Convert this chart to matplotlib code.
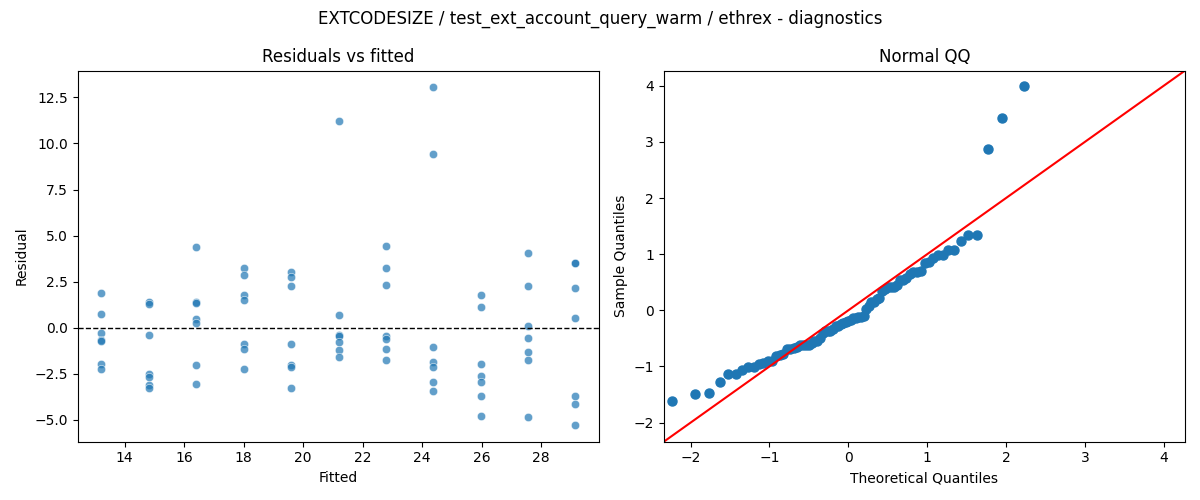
import numpy as np
import matplotlib
matplotlib.use("Agg")
import matplotlib.pyplot as plt
import seaborn as sns
from statistics import NormalDist

# Fitted values (one per group) and residuals
fitted_levels = [13.22, 14.81, 16.41, 18.00, 19.59, 21.19, 22.78, 24.37, 25.97, 27.56, 29.15]
residuals_by_group = [
    [1.90, 0.74, -0.29, -0.68, -0.72, -1.99, -2.22],
    [1.39, 1.28, -0.40, -2.53, -2.65, -3.09, -3.27],
    [4.39, 1.39, 1.36, 0.50, 0.25, -2.02, -3.05],
    [3.25, 2.85, 1.77, 1.50, -0.87, -1.16, -2.22],
    [3.03, 2.78, 2.26, -0.88, -2.02, -2.15, -3.27],
    [11.21, 0.69, -0.40, -0.43, -0.77, -1.19, -1.59],
    [4.42, 3.23, 2.31, -0.45, -0.61, -1.16, -1.75],
    [13.04, 9.41, -1.05, -1.86, -2.13, -2.94, -3.43],
    [1.77, 1.12, -1.97, -2.60, -2.94, -3.70, -4.78],
    [4.05, 2.26, 0.11, -0.56, -1.32, -1.75, -4.84],
    [3.54, 3.50, 2.15, 0.52, -3.70, -4.13, -5.27],
]

title = "EXTCODESIZE / test_ext_account_query_warm / ethrex - diagnostics"

fitted = np.concatenate([[f] * len(r) for f, r in zip(fitted_levels, residuals_by_group)])
resid = np.concatenate(residuals_by_group)

fig, (ax1, ax2) = plt.subplots(1, 2, figsize=(12, 5), dpi=100)

sns.scatterplot(x=fitted, y=resid, ax=ax1, alpha=0.7)
ax1.axhline(0, color="black", linestyle="--", linewidth=1)
ax1.set_title("Residuals vs fitted")
ax1.set_xlabel("Fitted")
ax1.set_ylabel("Residual")

# Normal QQ of standardized residuals
n = len(resid)
std_resid = np.sort((resid - resid.mean()) / resid.std())
nd = NormalDist()
theo = np.array([nd.inv_cdf(i / (n + 1)) for i in range(1, n + 1)])
ax2.plot(theo, std_resid, "o", color="C0", markersize=6.5, linestyle="none")
lims = (-2.34, 4.27)
ax2.plot(lims, lims, color="red", linewidth=1.5)
ax2.set_xlim(lims)
ax2.set_ylim(lims)
ax2.set_title("Normal QQ")
ax2.set_xlabel("Theoretical Quantiles")
ax2.set_ylabel("Sample Quantiles")

fig.suptitle(title)
fig.tight_layout()
fig.savefig("out.png")
